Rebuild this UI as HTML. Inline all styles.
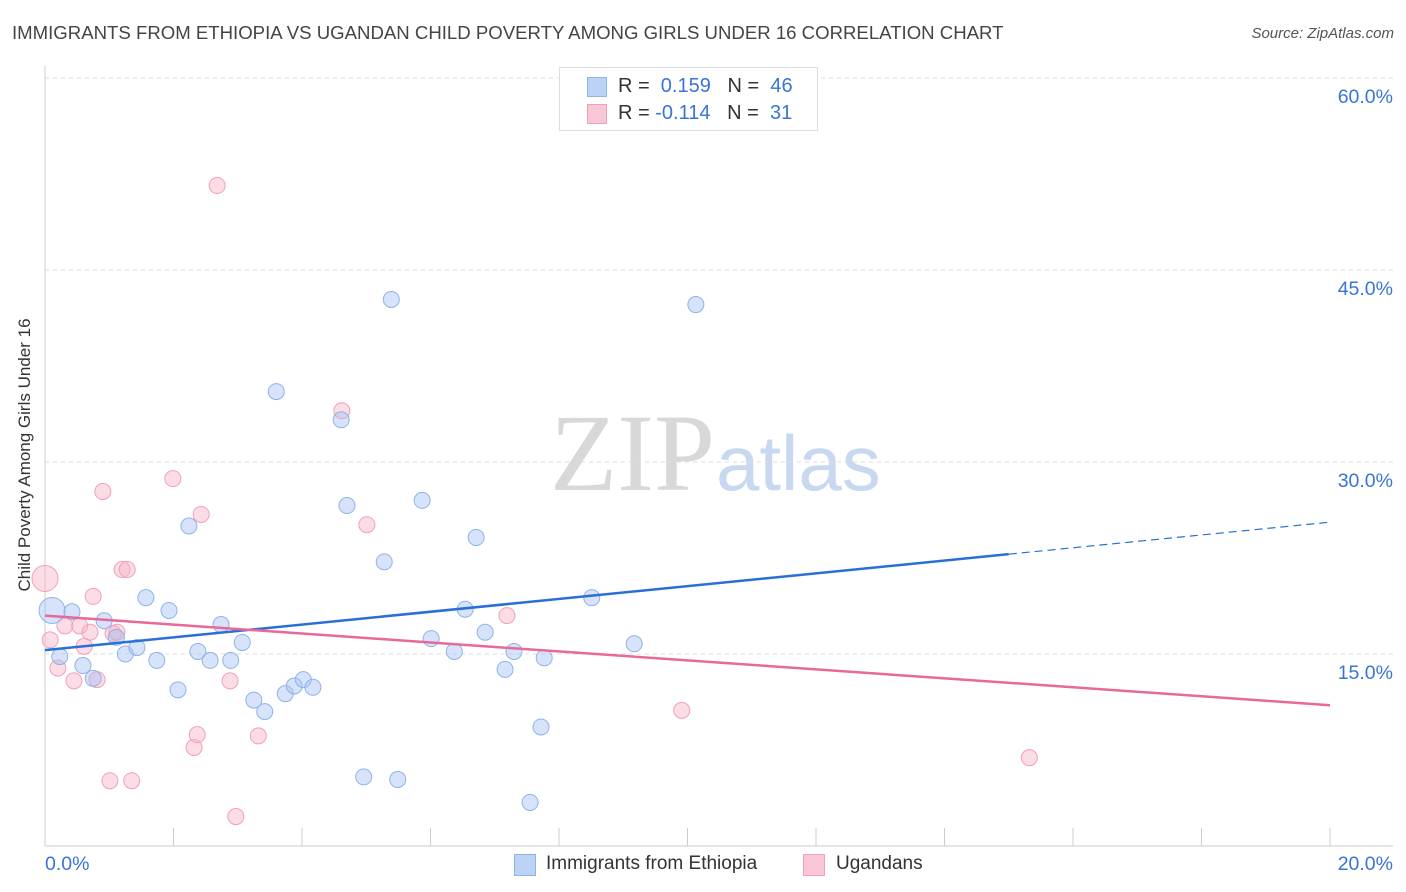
<!DOCTYPE html>
<html><head><meta charset="utf-8"><style>
body{margin:0;background:#fff;font-family:"Liberation Sans",sans-serif;}
#wrap{position:relative;width:1406px;height:892px;overflow:hidden;}
.t{position:absolute;white-space:nowrap;}
</style></head><body>
<div id="wrap">
<div class="t" style="left:12px;top:22px;font-size:18.6px;color:#444;">IMMIGRANTS FROM ETHIOPIA VS UGANDAN CHILD POVERTY AMONG GIRLS UNDER 16 CORRELATION CHART</div>
<div class="t" style="right:12px;top:25px;font-size:15px;color:#555;font-style:italic;">Source: ZipAtlas.com</div>
<svg id="svg" width="1406" height="892" style="position:absolute;left:0;top:0">
<text x="715" y="490" text-anchor="end" font-family="Liberation Serif,serif" font-size="110" fill="#d8d8d8">ZIP</text>
<text x="716" y="490" font-family="Liberation Sans,sans-serif" font-size="78" fill="#c8d8f0">atlas</text>
</svg>
<div class="t" style="left:25px;top:455px;font-size:17px;color:#333;transform:translate(-50%,-50%) rotate(-90deg);">Child Poverty Among Girls Under 16</div>
<div style="position:absolute;left:559px;top:67px;width:257px;height:62px;border:1px solid #ddd;background:#fff;">
<div style="position:absolute;left:27px;top:9px;width:18px;height:18px;background:#bcd3f5;border:1px solid #8fb3e8;"></div>
<div class="t" style="left:58px;top:7px;font-size:20px;color:#333;">R = &nbsp;<span style="color:#3a74d6">0.159</span> &nbsp;&nbsp;N = &nbsp;<span style="color:#3a74d6">46</span></div>
<div style="position:absolute;left:27px;top:36px;width:18px;height:18px;background:#f9c6d6;border:1px solid #f0a0b8;"></div>
<div class="t" style="left:58px;top:34px;font-size:20px;color:#333;">R = <span style="color:#3a74d6">-0.114</span> &nbsp;&nbsp;N = &nbsp;<span style="color:#3a74d6">31</span></div>
</div>
<div style="position:absolute;left:514px;top:854px;width:20px;height:20px;background:#bcd3f5;border:1px solid #8fb3e8;"></div>
<div class="t" style="left:546px;top:853px;font-size:19px;color:#333;">Immigrants from Ethiopia</div>
<div style="position:absolute;left:803px;top:854px;width:20px;height:20px;background:#f9c6d6;border:1px solid #f0a0b8;"></div>
<div class="t" style="left:836px;top:853px;font-size:19px;color:#333;">Ugandans</div>
</div>
<script>
const xTicks=[0,20];
const yTicks=[15,30,45,60];
const blueX=[0.11,0.42,0.23,0.59,0.75,0.92,1.11,1.25,1.43,1.57,1.74,1.93,2.07,2.24,2.38,2.57,2.74,2.89,3.07,3.25,3.42,3.60,3.74,3.88,4.02,4.17,4.61,4.70,4.96,5.28,5.39,5.49,5.87,6.01,6.37,6.54,6.71,6.85,7.16,7.30,7.55,7.72,7.77,8.51,9.17,10.13];
const blueY=[18.4,18.3,14.8,14.1,13.1,17.6,16.3,15.0,15.5,19.4,14.5,18.4,12.2,25.0,15.2,14.5,17.3,14.5,15.9,11.4,10.5,35.5,11.9,12.5,13.0,12.4,33.3,26.6,5.4,22.2,42.7,5.2,27.0,16.2,15.2,18.5,24.1,16.7,13.8,15.2,3.4,9.3,14.7,19.4,15.8,42.3];
const pinkX=[0,0.08,0.2,0.31,0.45,0.54,0.61,0.7,0.75,0.81,0.9,1.01,1.06,1.12,1.2,1.28,1.35,1.99,2.32,2.37,2.43,2.68,2.88,2.97,3.32,4.62,5.01,7.19,9.91,15.32];
const pinkY=[20.9,16.1,13.9,17.2,12.9,17.2,15.6,16.7,19.5,13.0,27.7,5.1,16.6,16.7,21.6,21.6,5.1,28.7,7.7,8.7,25.9,51.6,12.9,2.3,8.6,34.0,25.1,18.0,10.6,6.9];
const blueTrend=[15.3,25.3];
const pinkTrend=[18.0,11.0];
const X0=45,X1=1330,Y0=846,Y1=78;
const sx=v=>X0+(v-0)/(20-0)*(X1-X0);
const sy=v=>Y0-(v-0)/(60-0)*(Y0-Y1);
const svg=document.getElementById('svg');
const NS='http://www.w3.org/2000/svg';
function mk(t,a){const e=document.createElementNS(NS,t);for(const k in a)e.setAttribute(k,a[k]);svg.appendChild(e);return e;}
yTicks.forEach(v=>{
 const l=mk('line',{x1:X0,x2:1393,y1:sy(v),y2:sy(v),stroke:'#ddd','stroke-dasharray':'4,4'});
 
 
 const t=mk('text',{x:1393,y:sy(v)+25,'text-anchor':'end','font-size':19.5,fill:'#3a74d6','font-family':'Liberation Sans,sans-serif'});
 t.textContent=v.toFixed(1)+'%';
 
 
});
const ax=mk('line',{x1:X0,x2:X0,y1:66,y2:Y0,stroke:'#ccc'});


const bx=mk('line',{x1:X0,x2:1393,y1:Y0,y2:Y0,stroke:'#ccc'});


for(let i=0;i<=10;i++){
 const tk=mk('line',{x1:sx(i*2),x2:sx(i*2),y1:828,y2:Y0,stroke:'#ccc'});
 
 
}
xTicks.forEach((v,i)=>{
 const t=mk('text',{x:i==0?sx(v):1393,y:870,'text-anchor':i==0?'start':'end','font-size':19.5,fill:'#3a74d6','font-family':'Liberation Sans,sans-serif'});
 t.textContent=v.toFixed(1)+'%';
 
 
});
pinkX.forEach((v,i)=>{
 const c=mk('circle',{cx:sx(v),cy:sy(pinkY[i]),r:i==0?13:8,fill:'rgba(248,180,200,0.45)',stroke:'#f0a0b8','stroke-width':1});
 
 
});
blueX.forEach((v,i)=>{
 const c=mk('circle',{cx:sx(v),cy:sy(blueY[i]),r:i==0?13:8,fill:'rgba(164,194,244,0.45)',stroke:'#8fb3e8','stroke-width':1});
 
 
});
const bAt=x=>blueTrend[0]+(blueTrend[1]-blueTrend[0])*x/20;
const b1=mk('line',{x1:sx(0),y1:sy(bAt(0)),x2:sx(15),y2:sy(bAt(15)),stroke:'#2a6fd6','stroke-width':2.5});


const b2=mk('line',{x1:sx(15),y1:sy(bAt(15)),x2:sx(20),y2:sy(bAt(20)),stroke:'#2a6fd6','stroke-width':1.2,'stroke-dasharray':'8,5'});


const p1=mk('line',{x1:sx(0),y1:sy(pinkTrend[0]),x2:sx(20),y2:sy(pinkTrend[1]),stroke:'#e8689a','stroke-width':2.5});


</script>
</body></html>
